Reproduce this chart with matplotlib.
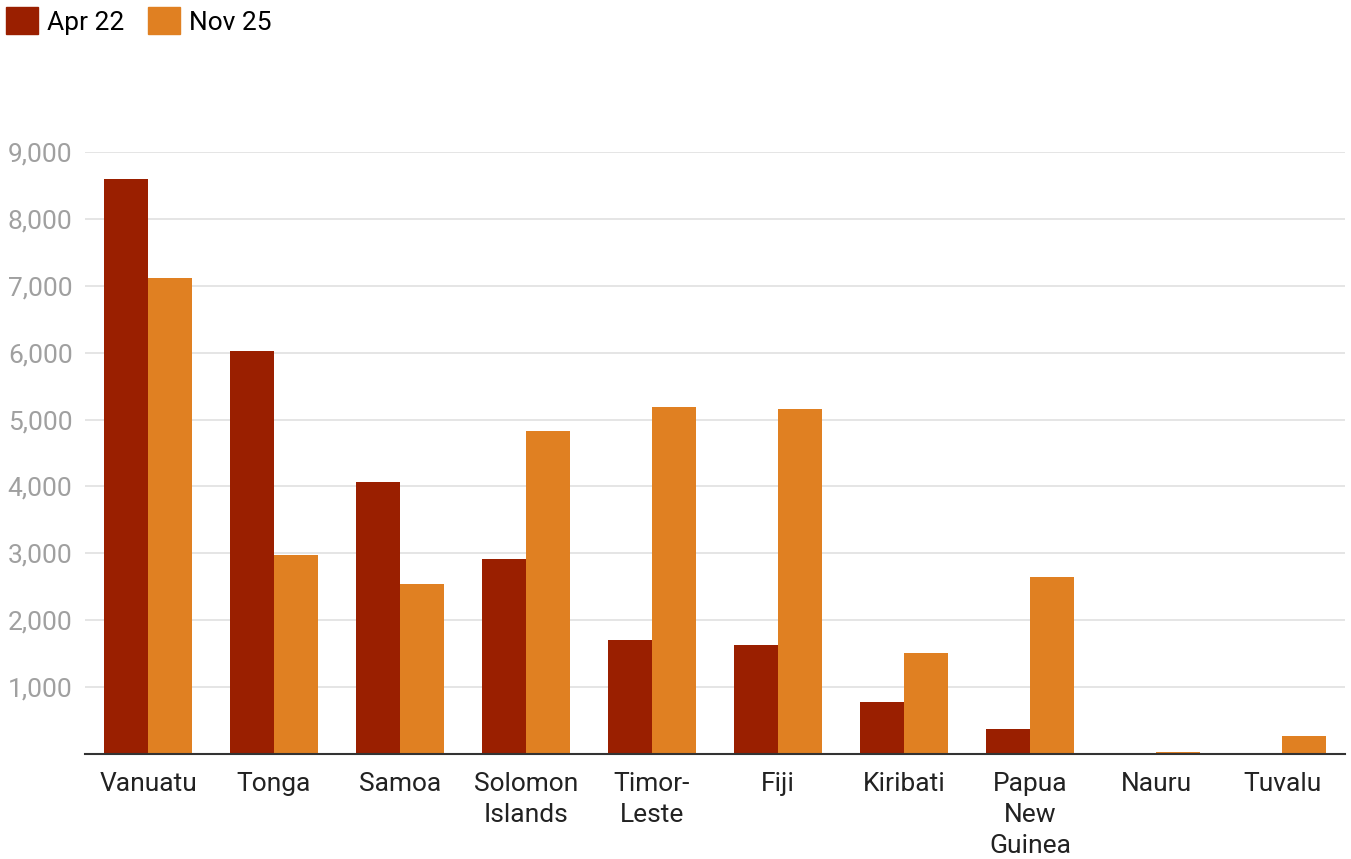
import numpy as np
import matplotlib.pyplot as plt
from matplotlib.patches import Patch

plt.rcParams['font.family'] = ['Roboto', 'DejaVu Sans']

countries = ['Vanuatu', 'Tonga', 'Samoa', 'Solomon\nIslands', 'Timor-\nLeste', 'Fiji',
             'Kiribati', 'Papua\nNew\nGuinea', 'Nauru', 'Tuvalu']
apr22 = [8600, 6030, 4070, 2910, 1710, 1630, 770, 370, 0, 0]
nov25 = [7110, 2980, 2540, 4830, 5190, 5160, 1510, 2640, 30, 270]

C_APR = '#9a1f00'
C_NOV = '#e08022'

fig = plt.figure(figsize=(13.51, 8.59), dpi=100)
ax = fig.add_axes([85 / 1351, 1 - 754 / 859, 1260 / 1351, (754 - 152) / 859])

x = np.arange(len(countries))
w = 0.35
ax.bar(x - w / 2, apr22, w, color=C_APR, zorder=3)
ax.bar(x + w / 2, nov25, w, color=C_NOV, zorder=3)

ax.set_xlim(-0.5, len(countries) - 0.5)
ax.set_ylim(0, 9000)
ax.set_yticks(range(1000, 9001, 1000))
ax.set_yticklabels([f'{v:,}' for v in range(1000, 9001, 1000)], color='#a0a0a0', fontsize=19)
ax.yaxis.grid(True, color='#e0e0e0', linewidth=1.2, zorder=0)
ax.tick_params(axis='y', length=0, pad=9)
ax.set_xticks(x)
ax.set_xticklabels(countries, fontsize=19, color='#222222', linespacing=1.38, va='top')
ax.tick_params(axis='x', length=0, pad=13)

for s in ['top', 'right', 'left']:
    ax.spines[s].set_visible(False)
ax.spines['bottom'].set_color('#333333')
ax.spines['bottom'].set_linewidth(1.5)
ax.spines['bottom'].set_zorder(4)

handles = [Patch(color=C_APR, label='Apr 22'), Patch(color=C_NOV, label='Nov 25')]
fig.legend(handles=handles, loc='upper left', bbox_to_anchor=(-0.007, 1.01), ncol=2,
           frameon=False, fontsize=19, handlelength=1.2, handleheight=1.2,
           handletextpad=0.35, columnspacing=0.9, borderaxespad=0.2)

fig.savefig('out.png', dpi=100)
